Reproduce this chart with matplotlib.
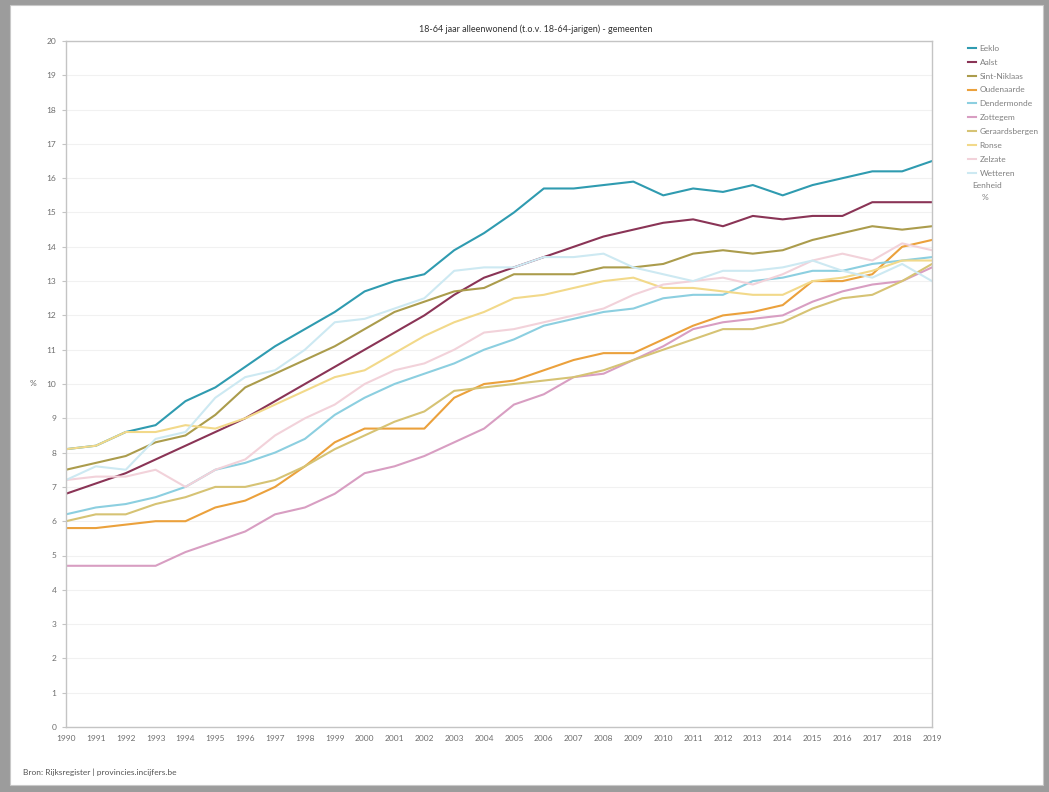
import matplotlib
matplotlib.use('Agg')
import matplotlib.pyplot as plt
from matplotlib.patches import Rectangle

plt.rcParams['font.family'] = ['Lato', 'DejaVu Sans']

years = list(range(1990, 2020))

eeklo = [8.1, 8.2, 8.6, 8.8, 9.5, 9.9, 10.5, 11.1, 11.6, 12.1, 12.7, 13.0, 13.2, 13.9, 14.4,
         15.0, 15.7, 15.7, 15.8, 15.9, 15.5, 15.7, 15.6, 15.8, 15.5, 15.8, 16.0, 16.2, 16.2, 16.5]
aalst = [6.8, 7.1, 7.4, 7.8, 8.2, 8.6, 9.0, 9.5, 10.0, 10.5, 11.0, 11.5, 12.0, 12.6, 13.1,
         13.4, 13.7, 14.0, 14.3, 14.5, 14.7, 14.8, 14.6, 14.9, 14.8, 14.9, 14.9, 15.3, 15.3, 15.3]
sint_niklaas = [7.5, 7.7, 7.9, 8.3, 8.5, 9.1, 9.9, 10.3, 10.7, 11.1, 11.6, 12.1, 12.4, 12.7, 12.8,
                13.2, 13.2, 13.2, 13.4, 13.4, 13.5, 13.8, 13.9, 13.8, 13.9, 14.2, 14.4, 14.6, 14.5, 14.6]
oudenaarde = [5.8, 5.8, 5.9, 6.0, 6.0, 6.4, 6.6, 7.0, 7.6, 8.3, 8.7, 8.7, 8.7, 9.6, 10.0,
              10.1, 10.4, 10.7, 10.9, 10.9, 11.3, 11.7, 12.0, 12.1, 12.3, 13.0, 13.0, 13.2, 14.0, 14.2]
dendermonde = [6.2, 6.4, 6.5, 6.7, 7.0, 7.5, 7.7, 8.0, 8.4, 9.1, 9.6, 10.0, 10.3, 10.6, 11.0,
               11.3, 11.7, 11.9, 12.1, 12.2, 12.5, 12.6, 12.6, 13.0, 13.1, 13.3, 13.3, 13.5, 13.6, 13.7]
zottegem = [4.7, 4.7, 4.7, 4.7, 5.1, 5.4, 5.7, 6.2, 6.4, 6.8, 7.4, 7.6, 7.9, 8.3, 8.7,
            9.4, 9.7, 10.2, 10.3, 10.7, 11.1, 11.6, 11.8, 11.9, 12.0, 12.4, 12.7, 12.9, 13.0, 13.4]
geraardsbergen = [6.0, 6.2, 6.2, 6.5, 6.7, 7.0, 7.0, 7.2, 7.6, 8.1, 8.5, 8.9, 9.2, 9.8, 9.9,
                  10.0, 10.1, 10.2, 10.4, 10.7, 11.0, 11.3, 11.6, 11.6, 11.8, 12.2, 12.5, 12.6, 13.0, 13.5]
ronse = [8.1, 8.2, 8.6, 8.6, 8.8, 8.7, 9.0, 9.4, 9.8, 10.2, 10.4, 10.9, 11.4, 11.8, 12.1,
         12.5, 12.6, 12.8, 13.0, 13.1, 12.8, 12.8, 12.7, 12.6, 12.6, 13.0, 13.1, 13.3, 13.6, 13.6]
zelzate = [7.2, 7.3, 7.3, 7.5, 7.0, 7.5, 7.8, 8.5, 9.0, 9.4, 10.0, 10.4, 10.6, 11.0, 11.5,
           11.6, 11.8, 12.0, 12.2, 12.6, 12.9, 13.0, 13.1, 12.9, 13.2, 13.6, 13.8, 13.6, 14.1, 13.9]
wetteren = [7.2, 7.6, 7.5, 8.4, 8.6, 9.6, 10.2, 10.4, 11.0, 11.8, 11.9, 12.2, 12.5, 13.3, 13.4,
            13.4, 13.7, 13.7, 13.8, 13.4, 13.2, 13.0, 13.3, 13.3, 13.4, 13.6, 13.3, 13.1, 13.5, 13.0]

names = ['Eeklo', 'Aalst', 'Sint-Niklaas', 'Oudenaarde', 'Dendermonde', 'Zottegem',
         'Geraardsbergen', 'Ronse', 'Zelzate', 'Wetteren']
series = [eeklo, aalst, sint_niklaas, oudenaarde, dendermonde, zottegem,
          geraardsbergen, ronse, zelzate, wetteren]
colors = ['#2f9bb0', '#8a3456', '#ab9c4c', '#eba13c', '#8ccfe0', '#d89ec2',
          '#d6c374', '#f2d98a', '#f2d2da', '#cde9f2']

fig = plt.figure(figsize=(10.49, 7.92), dpi=100, facecolor='#9c9c9c')
# white card of the screenshot, behind the axes
fig.patches.append(Rectangle((10/1049, 7/792), 1033/1049, 780/792, transform=fig.transFigure,
                             facecolor='white', edgecolor='#c8c8c8', lw=0.8, zorder=-1))

ax = fig.add_axes([66/1049, 1-727/792, 866/1049, 686/792])
ax.set_facecolor('white')

for name, vals, c in zip(names, series, colors):
    ax.plot(years, vals, color=c, lw=1.5, label=name, solid_joinstyle='round')

ax.set_xlim(1990, 2019)
ax.set_ylim(0, 20)
ax.set_xticks(years)
ax.set_xticklabels([str(y) for y in years])
ax.set_yticks(range(0, 21))
ax.grid(axis='y', color='#f1f1f1', lw=0.8)
ax.set_axisbelow(True)
for s in ax.spines.values():
    s.set_color('#c4c4c4')
    s.set_linewidth(1.0)
ax.tick_params(axis='x', length=0, pad=6, labelsize=6, labelcolor='#6e6e6e')
ax.tick_params(axis='y', length=3, color='#c4c4c4', pad=4, labelsize=6, labelcolor='#6e6e6e')

fig.text(33/1049, 1-383/792, '%', fontsize=6, color='#666666', ha='center', va='center')
fig.text(536/1049, 1-29/792, '18-64 jaar alleenwonend (t.o.v. 18-64-jarigen) - gemeenten',
         fontsize=6.5, color='#333333', ha='center', va='center')
fig.text(23/1049, 1-772/792, 'Bron: Rijksregister | provincies.incijfers.be',
         fontsize=6, color='#555555', ha='left', va='center')

leg = ax.legend(loc='upper left', bbox_to_anchor=(968/1049, 1-45/792), bbox_transform=fig.transFigure,
                frameon=False, fontsize=6, handlelength=0.9, handletextpad=0.5,
                labelspacing=0.82, borderaxespad=0, borderpad=0)
for t in leg.get_texts():
    t.set_color('#808080')
fig.text(972/1049, 1-185/792, 'Eenheid', fontsize=6, color='#808080', ha='left', va='center')
fig.text(982/1049, 1-198/792, '%', fontsize=6, color='#808080', ha='left', va='center')

fig.savefig('out.png', dpi=100, facecolor=fig.get_facecolor())
